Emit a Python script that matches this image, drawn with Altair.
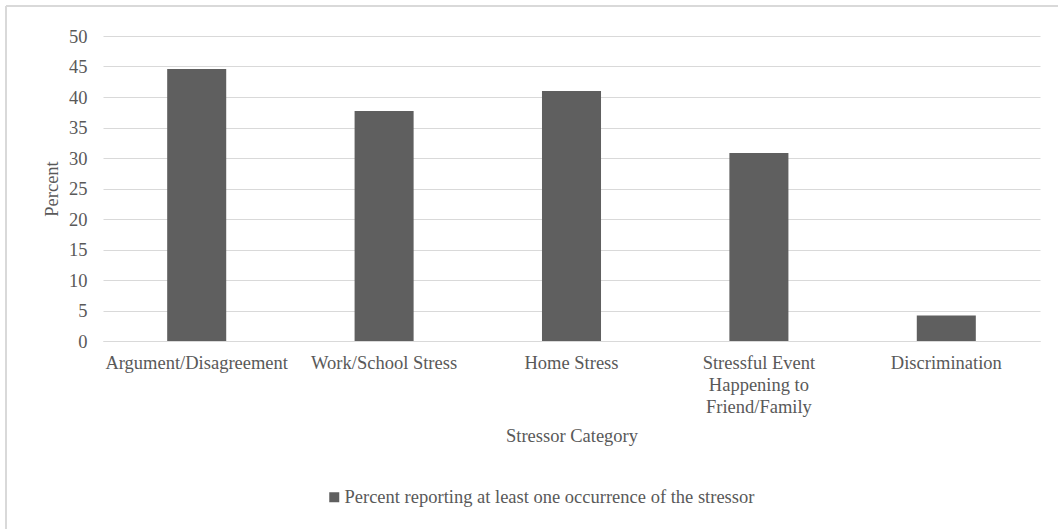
import json
import altair as alt
import pandas as pd

categories = [
    "Argument/Disagreement",
    "Work/School Stress",
    "Home Stress",
    "Stressful Event Happening to Friend/Family",
    "Discrimination",
]
label_lines = [
    ["Argument/Disagreement"],
    ["Work/School Stress"],
    ["Home Stress"],
    ["Stressful Event", "Happening to", "Friend/Family"],
    ["Discrimination"],
]
values = [44.6, 37.7, 41.0, 30.8, 4.2]
series_name = "Percent reporting at least one occurrence of the stressor"
y_ticks = [0, 5, 10, 15, 20, 25, 30, 35, 40, 45, 50]

df = pd.DataFrame({"category": categories, "value": values, "series": series_name})

expr = "datum.label"
for cat, lines in zip(categories, label_lines):
    if len(lines) > 1:
        expr = f"datum.label === {json.dumps(cat)} ? {json.dumps(lines)} : ({expr})"

FONT = "Liberation Serif, Times New Roman, DejaVu Serif, serif"
TXT = "#595959"
FS = 18.5
W, H = 937, 305

bars = alt.Chart(df).mark_bar().encode(
    x=alt.X(
        "category:N",
        sort=categories,
        scale=alt.Scale(paddingInner=0.685, paddingOuter=0.3425),
        axis=alt.Axis(
            title="Stressor Category",
            labelExpr=expr,
            labelAngle=0,
            labelBaseline="top",
            labelPadding=12,
            labelLineHeight=22,
            labelLimit=400,
            ticks=False,
            domainColor="#d9d9d9",
            titleY=94,
            titleBaseline="middle",
            titleFontWeight="normal",
            labelFont=FONT,
            titleFont=FONT,
        ),
    ),
    y=alt.Y(
        "value:Q",
        scale=alt.Scale(domain=[0, 50], nice=False),
        axis=alt.Axis(
            title="Percent",
            values=y_ticks,
            ticks=False,
            domain=False,
            labelPadding=16,
            gridColor="#d9d9d9",
            gridWidth=1.2,
            titleX=-52,
            titleY=H / 2,
            titleAngle=-90,
            titleAlign="center",
            titleBaseline="middle",
            titleFontWeight="normal",
            labelFont=FONT,
            titleFont=FONT,
        ),
    ),
    color=alt.Color(
        "series:N",
        scale=alt.Scale(domain=[series_name], range=["#5f5f5f"]),
        legend=alt.Legend(
            title=None,
            orient="none",
            legendX=222,
            legendY=452,
            symbolType="square",
            symbolSize=100,
            symbolStrokeWidth=0,
            labelFontSize=FS,
            labelFont=FONT,
            labelColor=TXT,
            labelOffset=1,
            labelLimit=600,
            padding=0,
        ),
    ),
)

border_left = alt.Chart(df).mark_rule(color="#d9d9d9", strokeWidth=1.5).encode(
    x=alt.value(-97), y=alt.value(-30), y2=alt.value(H + 200)
)
border_top = alt.Chart(df).mark_rule(color="#d9d9d9", strokeWidth=1.5).encode(
    x=alt.value(-97), x2=alt.value(W + 30), y=alt.value(-30)
)

chart = (
    alt.layer(border_left, border_top, bars)
    .properties(
        width=W,
        height=H,
        autosize=alt.AutoSizeParams(type="none"),
        padding={"left": 103, "top": 36, "right": 18, "bottom": 188},
        background="white",
    )
    .configure(font=FONT)
    .configure_view(stroke=None)
    .configure_axis(
        labelFont=FONT,
        titleFont=FONT,
        labelFontSize=FS,
        titleFontSize=FS,
        labelColor=TXT,
        titleColor=TXT,
    )
    .configure_legend(labelFont=FONT)
)

chart.save("out.html", embed_options={"renderer": "svg", "actions": False})
